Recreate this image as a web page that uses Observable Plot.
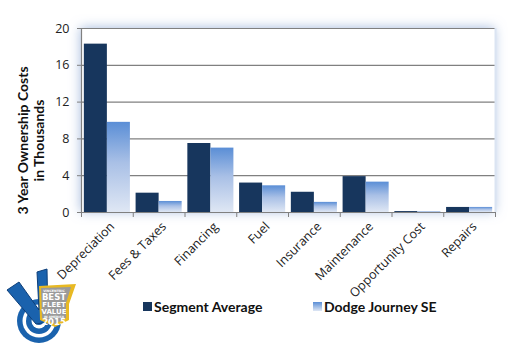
<!DOCTYPE html>
<html><head><meta charset="utf-8">
<script src="https://cdn.jsdelivr.net/npm/d3@7"></script>
<script src="https://cdn.jsdelivr.net/npm/@observablehq/plot@0.6"></script>
<style>
body{margin:0;background:#fff;width:510px;height:350px;overflow:hidden;position:relative;font-family:"Open Sans",sans-serif}
#chart svg{display:block}
#legend{position:relative;top:-5px;height:20px;width:510px;font-family:Lato,sans-serif;font-weight:bold;font-size:14px;color:#111}
#legend .item{position:absolute;top:0;display:flex;align-items:center;height:18px}
#legend .sw{width:9px;height:9px;margin-right:2px}
#logo{position:absolute;left:0;top:260px}
</style></head><body>
<div id="chart"></div>
<div id="legend"></div>
<svg id="logo" width="90" height="90" viewBox="0 0 90 90">
  <circle cx="39" cy="61" r="22" fill="#1a62ad"/>
  <circle cx="39" cy="61" r="16.5" fill="#fff"/>
  <circle cx="39" cy="61" r="13" fill="#1a62ad"/>
  <circle cx="39" cy="61" r="7.5" fill="#fff"/>
  <circle cx="39" cy="61" r="4" fill="#1a62ad"/>
  <polygon points="7,30 19,22 39,50 37,12 47,9 48,62 36,64" fill="#1a62ad" stroke="#0e3f7a" stroke-width="1"/>
  <polygon points="39,26 76,24 69,44 69,60 55,67 40,60" fill="#e8b923"/>
  <polygon points="41,28 71,27 66,43 66,58 55,64 42,58" fill="#9a9a9a"/>
  <text x="54" y="32" font-family="DejaVu Sans" font-size="3.2" font-weight="bold" fill="#fff" text-anchor="middle">VINCENTRIC</text>
  <text x="54" y="40" font-family="DejaVu Sans" font-size="8.5" font-weight="bold" fill="#fff" text-anchor="middle">BEST</text>
  <text x="54" y="47" font-family="DejaVu Sans" font-size="7" font-weight="bold" fill="#fff" text-anchor="middle">FLEET</text>
  <text x="54" y="54" font-family="DejaVu Sans" font-size="7" font-weight="bold" fill="#fff" text-anchor="middle">VALUE</text>
  <text x="54" y="57.5" font-family="DejaVu Sans" font-size="3" font-weight="bold" fill="#fff" text-anchor="middle">IN AMERICA</text>
  <text x="54" y="65" font-family="DejaVu Sans" font-size="8.5" font-weight="bold" fill="#fff" text-anchor="middle">2015</text>
</svg>
<script>
const categories = ["Depreciation","Fees & Taxes","Financing","Fuel","Insurance","Maintenance","Opportunity Cost","Repairs"];
const segmentAverage = [18.3, 2.1, 7.5, 3.2, 2.2, 3.9, 0.1, 0.55];
const dodgeJourney = [9.8, 1.2, 7.0, 2.9, 1.1, 3.3, 0.08, 0.55];
const seriesNames = ["Segment Average", "Dodge Journey SE"];
const yTicks = [0, 4, 8, 12, 16, 20];
const yTitle = "3 Year Ownership Costs\nin Thousands";

const segColor = "#17365d";
const gridColor = "#808080";
const gap = 0.055;

const segRows = categories.map((c, i) => ({cat: c, i, value: segmentAverage[i]}));
const dodgeRows = categories.map((c, i) => ({cat: c, i, value: dodgeJourney[i]}));

const defs = () => {
  const g = d3.create("svg:g");
  const d = g.append("defs");
  const lg = d.append("linearGradient").attr("id", "dodgeGrad").attr("x1", 0).attr("y1", 0).attr("x2", 0).attr("y2", 1);
  lg.append("stop").attr("offset", "0%").attr("stop-color", "#5a8ed6");
  lg.append("stop").attr("offset", "45%").attr("stop-color", "#a9c0e6");
  lg.append("stop").attr("offset", "100%").attr("stop-color", "#dfe7f4");
  const f = d.append("filter").attr("id", "barShadow").attr("x", "-50%").attr("y", "-50%").attr("width", "200%").attr("height", "200%");
  f.append("feDropShadow").attr("dx", 3).attr("dy", -2).attr("stdDeviation", 5).attr("flood-color", "#000").attr("flood-opacity", 0.22);
  const f2 = d.append("filter").attr("id", "frameGlow").attr("x", "-20%").attr("y", "-20%").attr("width", "140%").attr("height", "140%");
  f2.append("feDropShadow").attr("dx", -1).attr("dy", -1).attr("stdDeviation", 6).attr("flood-color", "#9fb6dc").attr("flood-opacity", 0.9);
  return g.node();
};

const chart = Plot.plot({
  width: 510,
  height: 302,
  marginLeft: 81,
  marginRight: 15,
  marginTop: 28,
  marginBottom: 90,
  style: {fontFamily: "'Open Sans', sans-serif", fontSize: "12px", color: "#222", background: "transparent"},
  x: {domain: [0, categories.length], axis: null},
  y: {domain: [0, 20], axis: null},
  marks: [
    defs,
    Plot.frame({fill: "#fff", stroke: "none", ariaLabel: "plotframe"}),
    Plot.gridY(yTicks, {stroke: gridColor, strokeOpacity: 1, strokeWidth: 1.2}),
    Plot.rectY(segRows, {x1: d => d.i + gap, x2: d => d.i + 0.5, y: "value", fill: segColor, ariaLabel: "segbars"}),
    Plot.rectY(dodgeRows, {x1: d => d.i + 0.5, x2: d => d.i + 1 - gap, y: "value", fill: "url(#dodgeGrad)", ariaLabel: "dodgebars"}),
    Plot.ruleX([0], {stroke: gridColor, strokeWidth: 1.2}),
    Plot.ruleX([categories.length], {stroke: "#dbe4f2", strokeWidth: 2}),
    Plot.ruleY([0], {stroke: gridColor, strokeWidth: 1.2}),
    Plot.axisY({ticks: yTicks, tickSize: 4, tickPadding: 8, stroke: gridColor, fontSize: 12.5, label: null, fill: "#222"}),
    Plot.axisX({ticks: d3.range(categories.length + 1), tickFormat: () => "", tickSize: 5, stroke: gridColor, label: null}),
    Plot.text(categories, {x: (d, i) => i + 0.5, y: 0, text: d => d, rotate: -45, textAnchor: "end", dx: 5, dy: 12, fontSize: 12.5, fill: "#222"}),
    Plot.text([yTitle], {frameAnchor: "left", text: d => d, rotate: -90, textAnchor: "middle", dx: -51, dy: 20, fontSize: 14, fontWeight: "bold", fontFamily: "Lato, sans-serif", lineHeight: 1.15, fill: "#111"})
  ]
});

// apply shadows
const sel = d3.select(chart);
sel.selectAll("[aria-label='segbars'], [aria-label='dodgebars']").attr("filter", "url(#barShadow)");
sel.selectAll("[aria-label='plotframe']").attr("filter", "url(#frameGlow)");
document.getElementById("chart").appendChild(chart);

const legend = d3.select("#legend");
const swFills = [segColor, "linear-gradient(#5a8ed6, #dfe7f4)"];
const legendLeft = [143, 313];
seriesNames.forEach((name, k) => {
  const it = legend.append("div").attr("class", "item").style("left", legendLeft[k] + "px");
  it.append("div").attr("class", "sw").style("background", swFills[k]);
  it.append("span").text(name);
});
</script>
</body></html>
